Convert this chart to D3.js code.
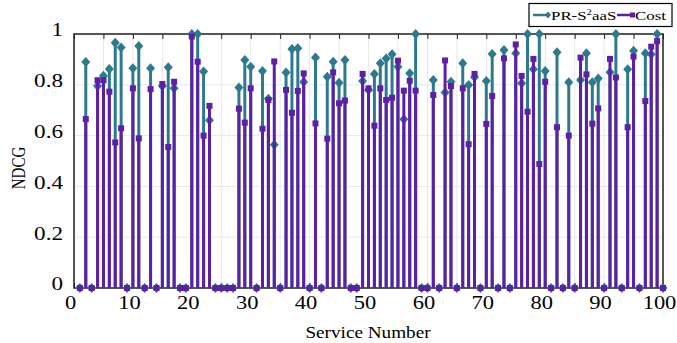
<!DOCTYPE html>
<html>
<head>
<meta charset="utf-8">
<script src="https://cdn.jsdelivr.net/npm/d3@7"></script>
<style>
  body { margin: 0; background: #fff; }
  svg { display: block; }
  text { font-family: "Liberation Serif", "Times New Roman", serif; fill: #000; }
</style>
</head>
<body>
<svg id="chart" width="677" height="343"></svg>
<script>
const TEAL = '#2c7a8c';
const PURPLE = '#5c1fa6';
const STRETCH = 1.25; // the source text is stretched horizontally

// service numbers 1..100
const services = d3.range(1, 101);

// PR-S2aaS NDCG per service
const prValues = [
  0, 0.89, 0, 0.795, 0.836, 0.862, 0.966, 0.947, 0, 0.865,
  0.953, 0, 0.865, 0, 0.795, 0.869, 0.786, 0, 0, 1.0,
  1.0, 0.852, 0.66, 0, 0, 0, 0, 0.789, 0.898, 0.871,
  0, 0.854, 0.745, 0.564, 0, 0.848, 0.941, 0.944, 0.811, 0,
  0.907, 0, 0.832, 0.891, 0.808, 0.898, 0, 0, 0.815, 0.78,
  0.843, 0.885, 0.904, 0.92, 0.871, 0.664, 0.845, 1.0, 0, 0,
  0.819, 0, 0.77, 0.812, 0, 0.885, 0.799, 0.83, 0, 0.815,
  0.921, 0, 0.937, 0, 0.924, 0.806, 1.0, 0.861, 1.0, 0.854,
  0, 0.928, 0, 0.81, 0, 0.819, 0.924, 0.81, 0.825, 0,
  0.849, 1.0, 0, 0.861, 0.934, 0, 0.924, 0.92, 1.0, 0,
];

// Cost NDCG per service
const costValues = [
  0, 0.665, 0, 0.818, 0.818, 0.773, 0.573, 0.629, 0, 0.786,
  0.589, 0, 0.783, 0, 0.803, 0.555, 0.812, 0, 0, 0.99,
  0.891, 0.60, 0.717, 0, 0, 0, 0, 0.706, 0.651, 0.786,
  0, 0.627, 0.74, 0.892, 0, 0.78, 0.69, 0.776, 0.845, 0,
  0.648, 0, 0.588, 0.849, 0.727, 0.738, 0, 0, 0.843, 0.786,
  0.639, 0.786, 0.74, 0.749, 0.895, 0.777, 0.816, 0.777, 0, 0,
  0.76, 0, 0.896, 0.795, 0, 0.786, 0.566, 0.843, 0, 0.646,
  0.756, 0, 0.904, 0, 0.959, 0.835, 0.694, 0.902, 0.488, 0.812,
  0, 0.633, 0, 0.60, 0, 0.907, 0.841, 0.647, 0.707, 0,
  0.902, 0.829, 0, 0.633, 0.911, 0, 0.736, 0.95, 0.972, 0,
];

const xTicks = d3.range(0, 101, 5);
const xLabels = d3.range(0, 101, 10);
const yTicks = [0, 0.2, 0.4, 0.6, 0.8, 1];

const svg = d3.select('#chart');
const plot = { left: 74, right: 663, top: 34, bottom: 288 };

const x = d3.scaleLinear().domain([0, 100]).range([plot.left, plot.right]);
const y = d3.scaleLinear().domain([0, 1]).range([plot.bottom, plot.top]);

// grid
const grid = svg.append('g').attr('class', 'grid');
grid.selectAll('.vgrid')
  .data(xTicks)
  .enter().append('line')
  .attr('x1', d => x(d)).attr('x2', d => x(d))
  .attr('y1', plot.top).attr('y2', plot.bottom)
  .attr('stroke', '#e8e8e8').attr('stroke-width', 1);
grid.selectAll('.hgrid')
  .data(yTicks)
  .enter().append('line')
  .attr('x1', plot.left).attr('x2', plot.right)
  .attr('y1', d => y(d)).attr('y2', d => y(d))
  .attr('stroke', '#e8e8e8').attr('stroke-width', 1);

// axes
const xAxis = svg.append('g')
  .attr('transform', `translate(0,${plot.bottom})`)
  .call(d3.axisBottom(x).tickValues(xTicks).tickSizeInner(-5).tickSizeOuter(0)
    .tickFormat(d => xLabels.includes(d) ? d : ''));
xAxis.select('.domain').remove();
xAxis.selectAll('line').attr('stroke', '#222');
xAxis.selectAll('text')
  .attr('x', -4 / STRETCH)
  .attr('y', 8)
  .attr('dy', '0.71em')
  .attr('transform', `scale(${STRETCH},1)`)
  .style('font-size', '18px');

const xAxisTop = svg.append('g')
  .attr('transform', `translate(0,${plot.top})`)
  .call(d3.axisTop(x).tickValues(xTicks).tickSizeInner(-5).tickSizeOuter(0).tickFormat(''));
xAxisTop.select('.domain').remove();
xAxisTop.selectAll('line').attr('stroke', '#222');

const yAxis = svg.append('g')
  .attr('transform', `translate(${plot.left},0)`)
  .call(d3.axisLeft(y).tickValues(yTicks).tickSizeInner(0).tickSizeOuter(0)
    .tickFormat(d => d === 0 || d === 1 ? d3.format('d')(d) : d3.format('.1f')(d)));
yAxis.select('.domain').remove();
yAxis.selectAll('text')
  .attr('x', -11 / STRETCH)
  .attr('dy', '0.1em')
  .attr('transform', `scale(${STRETCH},1)`)
  .style('font-size', '18.5px');

// box
svg.append('rect')
  .attr('x', plot.left).attr('y', plot.top)
  .attr('width', plot.right - plot.left).attr('height', plot.bottom - plot.top)
  .attr('fill', 'none').attr('stroke', '#222').attr('stroke-width', 1.5);

// axis titles
svg.append('text')
  .attr('transform', `translate(368,338) scale(1.2,1)`)
  .attr('text-anchor', 'middle')
  .style('font-size', '16px')
  .text('Service Number');

svg.append('text')
  .attr('transform', `translate(25,168) scale(1.2,1) rotate(-90)`)
  .attr('text-anchor', 'middle')
  .style('font-size', '15px')
  .text('NDCG');

const data = services.map((s, i) => ({ s, pr: prValues[i], cost: costValues[i] }));
const diamond = 'M0,-5L4.5,0L0,5L-4.5,0Z';

// PR-S2aaS stems and markers
const prG = svg.append('g');
prG.selectAll('line')
  .data(data)
  .enter().append('line')
  .attr('x1', d => x(d.s)).attr('x2', d => x(d.s))
  .attr('y1', y(0)).attr('y2', d => y(d.pr))
  .attr('stroke', TEAL).attr('stroke-width', 3);
prG.selectAll('path')
  .data(data)
  .enter().append('path')
  .attr('d', diamond)
  .attr('transform', d => `translate(${x(d.s)},${y(d.pr)})`)
  .attr('fill', TEAL);

// Cost stems and markers
const costG = svg.append('g');
costG.selectAll('line')
  .data(data)
  .enter().append('line')
  .attr('x1', d => x(d.s)).attr('x2', d => x(d.s))
  .attr('y1', y(0)).attr('y2', d => y(d.cost))
  .attr('stroke', PURPLE).attr('stroke-width', 3);
costG.selectAll('rect')
  .data(data)
  .enter().append('rect')
  .attr('x', d => x(d.s) - 3).attr('y', d => y(d.cost) - 3)
  .attr('width', 6).attr('height', 6)
  .attr('fill', PURPLE);

// legend
const legend = svg.append('g');
legend.append('rect')
  .attr('x', 529).attr('y', 3.5)
  .attr('width', 143).attr('height', 23)
  .attr('fill', '#fff').attr('stroke', '#000').attr('stroke-width', 1.2);
legend.append('line')
  .attr('x1', 533).attr('x2', 549).attr('y1', 15).attr('y2', 15)
  .attr('stroke', TEAL).attr('stroke-width', 2.5);
legend.append('path')
  .attr('d', 'M0,-3.5L3,0L0,3.5L-3,0Z')
  .attr('transform', 'translate(548,15)')
  .attr('fill', TEAL);
legend.append('line')
  .attr('x1', 617).attr('x2', 633).attr('y1', 15).attr('y2', 15)
  .attr('stroke', PURPLE).attr('stroke-width', 2.5);
legend.append('rect')
  .attr('x', 630).attr('y', 12.5).attr('width', 5).attr('height', 5)
  .attr('fill', PURPLE);

const prLabel = legend.append('text')
  .attr('transform', `translate(551,20) scale(${STRETCH},1)`)
  .style('font-size', '13.5px');
prLabel.append('tspan').text('PR-S');
prLabel.append('tspan').attr('dy', -5).style('font-size', '8.5px').text('2');
prLabel.append('tspan').attr('dy', 5).text('aaS');

legend.append('text')
  .attr('transform', `translate(635,20) scale(${STRETCH},1)`)
  .style('font-size', '13.5px')
  .text('Cost');
</script>
</body>
</html>
